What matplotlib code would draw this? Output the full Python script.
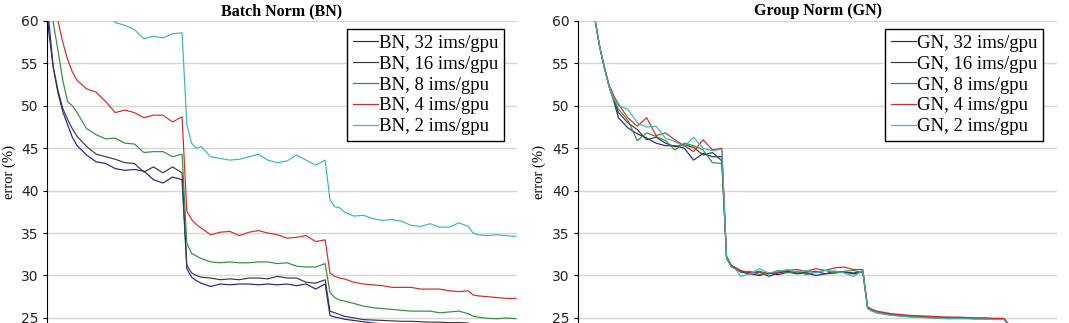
import matplotlib
matplotlib.use("Agg")
import matplotlib.pyplot as plt

# epochs at which the error was sampled
epochs = [1, 2, 3, 4, 5, 6, 7, 8, 10, 12, 14, 16, 18, 20, 22, 24, 26, 28, 30,
          31, 32, 33, 34, 36, 38, 40, 42, 44, 46, 48, 50, 52, 54, 56, 58, 60,
          61, 62, 63, 64, 66, 68, 70, 72, 74, 76, 78, 80, 82, 84, 86, 88, 90,
          91, 92, 94, 96, 98, 100]

labels = ["32 ims/gpu", "16 ims/gpu", "8 ims/gpu", "4 ims/gpu", "2 ims/gpu"]
colors = ["#22229a", "#3a3a3a", "#2f8f3c", "#dd2424", "#36b9b9"]

# --- Batch Norm curves ---
bn_32 = [75, 59.0, 54.5, 51.5, 49.3, 47.8, 46.3, 45.3, 44.2, 43.4, 43.2, 42.6, 42.4, 42.5, 42.3, 41.3, 40.9, 41.6, 41.3,
         30.8, 29.8, 29.4, 29.1, 28.7, 29.0, 28.9, 29.0, 29.0, 28.9, 29.0, 28.9, 29.0, 28.8, 29.0, 28.4, 29.0,
         25.3, 25.1, 25.0, 24.85, 24.7, 24.55, 24.4, 24.3, 24.2, 24.2, 24.1, 24.1, 24.0, 24.0, 24.0, 23.9, 23.9,
         23.6, 23.5, 23.4, 23.4, 23.3, 23.3]
bn_16 = [76, 60.5, 54.6, 51.8, 49.7, 48.4, 47.3, 46.4, 45.2, 44.3, 44.0, 43.7, 43.3, 43.2, 42.2, 42.8, 42.1, 42.8, 42.1,
         31.2, 30.3, 30.0, 29.8, 29.7, 29.5, 29.6, 29.5, 29.7, 29.7, 29.6, 29.9, 29.7, 29.7, 29.2, 29.1, 29.5,
         25.8, 25.6, 25.4, 25.2, 25.0, 24.8, 24.75, 24.7, 24.65, 24.6, 24.6, 24.55, 24.5, 24.5, 24.45, 24.45, 24.4,
         24.0, 23.9, 23.8, 23.8, 23.7, 23.7]
bn_8 = [78, 64.0, 59.8, 56.5, 53.0, 50.5, 50.0, 49.2, 47.3, 46.6, 46.1, 46.2, 45.6, 45.5, 44.5, 44.6, 44.6, 44.0, 44.3,
        33.8, 32.6, 32.3, 32.0, 31.6, 31.5, 31.6, 31.5, 31.5, 31.6, 31.6, 31.4, 31.5, 31.1, 31.0, 31.0, 31.4,
        28.0, 27.4, 27.1, 27.0, 26.7, 26.4, 26.2, 26.1, 26.0, 25.9, 25.8, 25.8, 25.8, 25.6, 25.7, 25.8, 25.5,
        25.2, 25.1, 24.95, 24.9, 25.0, 24.9]
bn_4 = [82, 70.0, 64.0, 60.0, 57.5, 55.5, 54.0, 53.0, 52.0, 51.6, 50.5, 49.2, 49.5, 49.2, 48.6, 48.9, 48.9, 48.1, 48.7,
        37.6, 36.6, 36.0, 35.6, 34.8, 35.1, 35.2, 34.7, 35.1, 35.3, 35.0, 34.8, 34.4, 34.5, 34.7, 34.0, 34.2,
        30.3, 29.9, 29.7, 29.6, 29.2, 29.0, 28.9, 28.8, 28.6, 28.6, 28.6, 28.4, 28.4, 28.4, 28.2, 28.1, 28.2,
        27.7, 27.6, 27.5, 27.4, 27.3, 27.3]
bn_2 = [95, 86.0, 81.0, 77.0, 74.0, 71.5, 69.5, 68.0, 65.5, 63.5, 61.5, 59.8, 59.5, 59.0, 57.9, 58.2, 58.0, 58.5, 58.6,
        47.8, 45.6, 45.0, 45.2, 44.0, 43.8, 43.6, 43.7, 44.0, 44.3, 43.6, 43.3, 43.5, 44.2, 43.6, 43.0, 43.6,
        38.9, 38.1, 38.0, 37.5, 37.0, 37.1, 36.7, 36.5, 36.6, 36.4, 35.9, 35.8, 36.1, 35.7, 35.7, 36.2, 35.8,
        35.0, 34.8, 34.7, 34.8, 34.7, 34.6]

# --- Group Norm curves ---
gn_32 = [80, 68.0, 60.2, 57.0, 54.5, 52.3, 50.6, 48.6, 47.4, 46.7, 46.2, 45.6, 45.3, 45.3, 45.0, 43.6, 44.4, 44.0, 44.0,
         32.0, 31.1, 30.8, 30.4, 30.2, 30.0, 30.3, 30.1, 30.4, 30.2, 30.3, 30.0, 30.2, 30.3, 30.4, 30.2, 30.4,
         26.1, 25.8, 25.6, 25.5, 25.35, 25.25, 25.15, 25.1, 25.05, 25.0, 24.95, 24.95, 24.95, 24.9, 24.9, 24.85, 24.85,
         24.2, 24.0, 23.9, 23.8, 23.8, 23.7]
gn_16 = [80, 68.0, 60.2, 57.0, 54.5, 52.3, 50.8, 49.2, 48.0, 47.2, 46.0, 46.3, 45.6, 45.2, 45.4, 45.1, 44.2, 44.5, 43.5,
         32.1, 31.1, 30.8, 30.5, 30.3, 30.4, 29.9, 30.3, 30.5, 30.3, 30.4, 30.5, 30.2, 30.5, 30.4, 30.3, 30.5,
         26.2, 25.9, 25.7, 25.6, 25.4, 25.3, 25.2, 25.15, 25.1, 25.05, 25.0, 25.0, 25.0, 24.95, 24.95, 24.9, 24.9,
         24.2, 24.0, 23.9, 23.8, 23.8, 23.7]
gn_8 = [80, 68.0, 60.2, 57.0, 54.5, 52.3, 50.7, 49.6, 48.3, 45.9, 46.8, 46.4, 45.9, 44.8, 45.6, 45.3, 44.8, 43.3, 43.2,
        32.2, 31.2, 30.9, 30.4, 30.5, 30.1, 30.2, 30.6, 30.3, 30.5, 30.1, 30.4, 30.6, 30.3, 30.5, 30.6, 30.3,
        26.2, 25.9, 25.7, 25.6, 25.4, 25.3, 25.2, 25.15, 25.1, 25.05, 25.0, 25.0, 25.0, 24.95, 24.95, 24.9, 24.9,
        24.2, 24.0, 23.9, 23.8, 23.8, 23.7]
gn_4 = [80, 68.0, 60.2, 57.0, 54.6, 52.5, 51.2, 50.2, 48.6, 47.6, 48.6, 46.5, 46.8, 46.0, 45.3, 44.6, 46.0, 44.8, 45.0,
        32.3, 31.2, 30.9, 30.6, 30.3, 30.5, 30.2, 30.4, 30.6, 30.7, 30.5, 30.8, 30.6, 30.9, 31.0, 30.7, 30.7,
        26.3, 26.0, 25.8, 25.7, 25.5, 25.4, 25.3, 25.25, 25.2, 25.15, 25.1, 25.1, 25.05, 25.0, 25.0, 24.95, 24.95,
        24.3, 24.1, 24.0, 23.9, 23.9, 23.8]
gn_2 = [80, 68.0, 60.2, 57.0, 54.5, 52.3, 50.9, 50.0, 49.6, 48.0, 47.5, 47.6, 46.2, 45.8, 45.2, 46.3, 45.0, 44.7, 44.9,
        32.1, 31.0, 30.7, 29.9, 30.2, 30.8, 30.3, 30.5, 30.7, 30.4, 30.6, 30.3, 30.6, 30.5, 30.3, 29.9, 30.6,
        26.1, 25.8, 25.6, 25.5, 25.3, 25.2, 25.1, 25.05, 25.0, 24.95, 24.9, 24.9, 24.9, 24.85, 24.85, 24.8, 24.8,
        24.1, 23.9, 23.8, 23.7, 23.7, 23.6]

panels = [
    ("Batch Norm (BN)", "BN", [bn_32, bn_16, bn_8, bn_4, bn_2], [0.044, 0.4836], (1.7, 100.2), (0.3246, 0.910)),
    ("Group Norm (GN)", "GN", [gn_32, gn_16, gn_8, gn_4, gn_2], [0.5407, 0.9888], (-0.6, 101.3), (0.828, 0.910)),
]

serif = ["Liberation Serif", "DejaVu Serif"]

fig = plt.figure(figsize=(10.69, 3.23), dpi=100)

for title, prefix, series, (x0, x1), xlim, legend_corner in panels:
    ax = fig.add_axes([x0, 0.0, x1 - x0, 0.935])

    # 1. the curves
    for values, label, color in zip(series, labels, colors):
        ax.plot(epochs, values, color=color, lw=0.85, label=f"{prefix}, {label}")

    # 2. axes look
    ax.set_xlim(*xlim)
    ax.set_ylim(24.4, 60)
    ax.set_yticks([25, 30, 35, 40, 45, 50, 55, 60])
    ax.set_xticks([])
    ax.grid(axis="y", color="#d6d6d6", lw=1.0)
    ax.set_axisbelow(True)
    for side in ["top", "right", "bottom"]:
        ax.spines[side].set_visible(False)
    ax.spines["left"].set_color("black")
    ax.tick_params(axis="y", direction="out", length=3, labelsize=10, colors="black", pad=3)
    for t in ax.get_yticklabels():
        t.set_color("#222222")

    ax.set_ylabel("error (%)", family=serif, fontsize=10.5, labelpad=4)
    ax.set_title(title, family=serif, fontsize=11.5, fontweight="bold", pad=4)

    # 3. legend, placed by its top-left corner
    leg = ax.legend(loc="upper left", bbox_to_anchor=legend_corner, bbox_transform=fig.transFigure,
                    prop={"family": serif, "size": 13.5}, frameon=True, fancybox=False,
                    edgecolor="black", framealpha=1, borderpad=0.3, labelspacing=0.2,
                    handlelength=1.35, handletextpad=0.05, borderaxespad=0)
    leg.get_frame().set_linewidth(1.0)

fig.savefig("out.png", dpi=100)
